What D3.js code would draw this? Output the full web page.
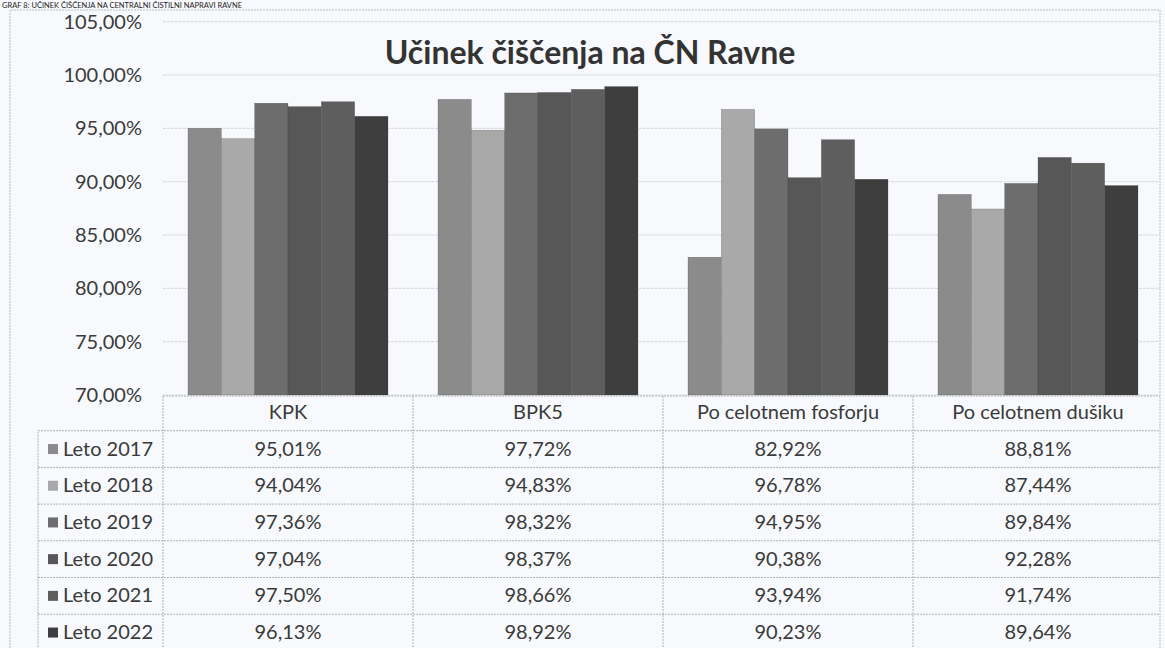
<!DOCTYPE html>
<html>
<head>
<meta charset="utf-8">
<script src="https://cdn.jsdelivr.net/npm/d3@7"></script>
<style>
  body { margin: 0; background: #f7f9fc; }
  svg { display: block; font-family: Lato, "Open Sans", sans-serif; }
</style>
</head>
<body>
<div id="chart"></div>
<script>
var categories = ["KPK", "BPK5", "Po celotnem fosforju", "Po celotnem dušiku"];
var seriesNames = ["Leto 2017", "Leto 2018", "Leto 2019", "Leto 2020", "Leto 2021", "Leto 2022"];
var leto2017 = [95.01, 97.72, 82.92, 88.81];
var leto2018 = [94.04, 94.83, 96.78, 87.44];
var leto2019 = [97.36, 98.32, 94.95, 89.84];
var leto2020 = [97.04, 98.37, 90.38, 92.28];
var leto2021 = [97.50, 98.66, 93.94, 91.74];
var leto2022 = [96.13, 98.92, 90.23, 89.64];
var yTicks = [70, 75, 80, 85, 90, 95, 100, 105];
var seriesValues = [leto2017, leto2018, leto2019, leto2020, leto2021, leto2022];
var colors = ["#8b8b8b", "#a9a9a9", "#6d6d6d", "#575757", "#5e5e5e", "#3e3e3e"];

var width = 1165, height = 648;
var margin = {left: 163, right: 5, top: 21.7, bottom: 253};
var plotBottom = 395;
var rowH = 36.7;

var locale = d3.formatLocale({decimal: ",", thousands: ".", grouping: [3], currency: ["", ""]});
var fmt = locale.format(".2f");
var pct = function(v) { return fmt(v) + "%"; };

var svg = d3.select("#chart").append("svg")
    .attr("width", width)
    .attr("height", height);

svg.append("rect").attr("width", width).attr("height", height).attr("fill", "#f7f9fc");

// caption above the chart (mostly cropped in the scan)
svg.append("text")
    .attr("x", 2).attr("y", 7.5)
    .attr("font-size", 7.5)
    .attr("fill", "#222")
    .text("GRAF 8: UČINEK ČIŠČENJA NA CENTRALNI ČISTILNI NAPRAVI RAVNE");

// chart border
svg.append("path")
    .attr("d", "M10," + height + "V10H1160V" + height)
    .attr("fill", "none")
    .attr("stroke", "#b9bcc2")
    .attr("stroke-dasharray", "2,1");

var x = d3.scaleBand()
    .domain(categories)
    .range([margin.left, width - margin.right + 3])
    .paddingInner(0.2)
    .paddingOuter(0.1);

var colX = d3.scaleBand()
    .domain(categories)
    .range([margin.left, width - margin.right + 3]);

var x1 = d3.scaleBand()
    .domain(seriesNames)
    .range([0, x.bandwidth()]);

var y = d3.scaleLinear()
    .domain([70, 105])
    .range([plotBottom, margin.top]);

// gridlines
svg.append("g")
    .selectAll("line")
    .data(yTicks)
    .enter().append("line")
    .attr("x1", margin.left)
    .attr("x2", width - margin.right)
    .attr("y1", function(d) { return y(d); })
    .attr("y2", function(d) { return y(d); })
    .attr("stroke", "#d3d6dc")
    .attr("stroke-dasharray", "3,1");

// y axis labels
var yAxis = svg.append("g")
    .attr("transform", "translate(" + 150 + ",0)")
    .call(d3.axisLeft(y).tickValues(yTicks).tickFormat(pct).tickSize(0).tickPadding(8));
yAxis.select(".domain").remove();
yAxis.selectAll("text")
    .attr("font-size", 20)
    .attr("font-family", "Lato, sans-serif")
    .attr("fill", "#3a3a3a");

// bars
var groups = svg.append("g")
    .selectAll("g")
    .data(seriesNames)
    .enter().append("g")
    .attr("fill", function(d, i) { return colors[i]; });

groups.selectAll("rect")
    .data(function(d, i) {
        return categories.map(function(c, j) { return {series: d, cat: c, value: seriesValues[i][j]}; });
    })
    .enter().append("rect")
    .attr("x", function(d) { return x(d.cat) + x1(d.series); })
    .attr("width", x1.bandwidth())
    .attr("y", function(d) { return y(d.value); })
    .attr("height", function(d) { return y(70) - y(d.value); })
    .attr("stroke", "#333")
    .attr("stroke-width", 0.4)
    .attr("stroke-opacity", 0.5);

// data table
var table = svg.append("g").attr("font-size", 20).attr("fill", "#3a3a3a");
var lineCol = "#aeb2b8";
var tableRight = width - margin.right;
var legendLeft = 38;

// header row (category names)
table.append("line")
    .attr("x1", margin.left).attr("x2", tableRight)
    .attr("y1", plotBottom + 1).attr("y2", plotBottom + 1)
    .attr("stroke", lineCol).attr("stroke-dasharray", "2,1");

categories.forEach(function(c) {
    table.append("text")
        .attr("x", colX(c) + colX.bandwidth() / 2)
        .attr("y", plotBottom + 1 + rowH * 0.64)
        .attr("text-anchor", "middle")
        .text(c);
});

// vertical column lines
colX.domain().forEach(function(c, i) {
    table.append("line")
        .attr("x1", colX(c)).attr("x2", colX(c))
        .attr("y1", plotBottom + 1).attr("y2", height)
        .attr("stroke", lineCol).attr("stroke-dasharray", "2,1");
});
table.append("line")
    .attr("x1", legendLeft).attr("x2", legendLeft)
    .attr("y1", plotBottom + 1 + rowH - 1).attr("y2", height)
    .attr("stroke", lineCol).attr("stroke-dasharray", "2,1");

var rowTop = function(i) { return plotBottom + rowH - 1 + i * rowH; };

seriesNames.forEach(function(s, i) {
    table.append("line")
        .attr("x1", legendLeft).attr("x2", tableRight)
        .attr("y1", rowTop(i)).attr("y2", rowTop(i))
        .attr("stroke", lineCol).attr("stroke-dasharray", "2,1");

    table.append("rect")
        .attr("x", legendLeft + 10)
        .attr("y", rowTop(i) + rowH / 2 - 5)
        .attr("width", 10).attr("height", 10)
        .attr("fill", colors[i]);

    table.append("text")
        .attr("x", legendLeft + 25)
        .attr("y", rowTop(i) + rowH * 0.68)
        .text(s);

    categories.forEach(function(c, j) {
        table.append("text")
            .attr("x", colX(c) + colX.bandwidth() / 2)
            .attr("y", rowTop(i) + rowH * 0.68)
            .attr("text-anchor", "middle")
            .text(pct(seriesValues[i][j]));
    });
});

// title
svg.append("text")
    .attr("x", 590)
    .attr("y", 64)
    .attr("text-anchor", "middle")
    .attr("font-size", 32)
    .attr("font-weight", "bold")
    .attr("fill", "#333")
    .text("Učinek čiščenja na ČN Ravne");
</script>
</body>
</html>
